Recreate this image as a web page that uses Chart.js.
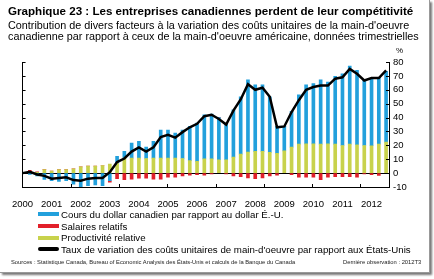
<!DOCTYPE html>
<html>
<head>
<meta charset="utf-8">
<script src="https://cdn.jsdelivr.net/npm/chart.js@4.4.1/dist/chart.umd.min.js"></script>
<style>
  html, body { margin: 0; padding: 0; background: #fff; }
  body { width: 434px; height: 279px; position: relative; overflow: hidden; font-family: "Liberation Sans", Arial, sans-serif; color: #000; }
  #frame { position: absolute; left: 0; top: 0; width: 429px; height: 272px; border-right: 1px solid #999; border-bottom: 1px solid #999; box-shadow: 2px 2px 2px #777; }
  #chart { position: absolute; left: 0; top: 0; }
  .t { position: absolute; white-space: nowrap; }
  #title { left: 8px; top: 4px; font-size: 11.6px; font-weight: bold; }
  #sub { left: 8px; top: 20px; font-size: 10.8px; line-height: 10.5px; }
  #pct { left: 396px; top: 46px; font-size: 8px; }
  .lg { position: absolute; left: 38px; font-size: 9.7px; line-height: 12px; white-space: nowrap; }
  .sw { display: inline-block; width: 21px; height: 4px; vertical-align: middle; margin-right: 2px; position: relative; top: -1px; }
  #src { left: 11px; top: 259px; font-size: 5.8px; color: #222; }
  #last { left: 343px; top: 259px; font-size: 5.8px; color: #222; }
</style>
</head>
<body>
<div id="frame"></div>
<canvas id="chart" width="434" height="279"></canvas>
<div class="t" id="title">Graphique 23 : Les entreprises canadiennes perdent de leur compétitivité</div>
<div class="t" id="sub">Contribution de divers facteurs à la variation des coûts unitaires de la main-d'oeuvre<br>canadienne par rapport à ceux de la main-d'oeuvre américaine, données trimestrielles</div>
<div class="t" id="pct">%</div>
<div id="legend"></div>
<div class="t" id="src">Sources : Statistique Canada, Bureau of Economic Analysis des États-Unis et calculs de la Banque du Canada</div>
<div class="t" id="last">Dernière observation : 2012T3</div>
<script>
// quarterly, 2000T1 .. 2012T3 (index 0 = 2000T1)
const years = ['2000', '2001', '2002', '2003', '2004', '2005', '2006', '2007', '2008', '2009', '2010', '2011', '2012'];

const dollar = [null, -1, -2, -4.5, -5.5, -6, -5.5, -8, -10, -9, -8.5, -9, -5.5,
  5, 4.8, 10.8, 12, 8.2, 12, 20.2, 20.2, 18, 20.5, 24.6, 27.5, 31.7, 32.2, 30.4, 26.4,
  34.1, 41.3, 52.1, 48, 48, 40.1, 19.4, 17.6, 25.7, 35.5, 42.4, 43.5, 46.3, 44.5,
  48.7, 51.6, 56.1, 53.6, 47.3, 48.3, 48.1, 50.9];

const wages = [null, 1.5, 0.5, 0, 0, 0, 0, 0, 0, 0, 0, 0, -1,
  -4, -4.8, -4.3, -3.6, -3.6, -4.3, -4.3, -3, -3, -2, -1.5, -1.2, -1.5, -0.5, 0, -0.5,
  -2, -2.5, -3.5, -4, -3.5, -2, -1.5, 0, -1.2, -3, -3, -3, -4.8, -3,
  -2.5, -2.5, -2.5, -3, -0.5, -1.2, -1.7, 0];

const productivity = [null, 0.5, 0.5, 2.5, 1.5, 2.5, 2.5, 3, 4.5, 5, 5, 5.5, 6.5,
  7, 10.8, 10.8, 10.8, 10.5, 10.8, 10.8, 10.8, 10.8, 10.5, 9, 8.5, 10.3, 10.3, 9.6, 9.6,
  11.5, 13.7, 15.1, 15.6, 15.6, 14.9, 14.2, 16, 18.7, 20.9, 21.1, 21, 20.9, 21,
  20.9, 19.9, 20.9, 20.4, 19.9, 19.7, 20.9, 22.3];

const ulcRate = [0, 1, -1, -2, -4, -3.5, -3, -5, -5.5, -4, -3.5, -3.5, 0.7,
  8, 10.5, 15.5, 18.5, 15.5, 18.5, 26, 27.5, 25.5, 29.5, 33, 35.5, 41, 42, 39, 35,
  45, 53, 64, 60, 61.5, 55, 33, 33.6, 44, 52.5, 60, 62, 63, 63,
  68, 69, 75, 71.5, 66.7, 68.4, 68.4, 74];

// bottom axis tick marks (in quarter units)
const xTickMarks = [6.63, 13.27, 19.9, 26.54, 33.17, 39.8, 46.44];

const BLUE = '#22a0dc';
const RED = '#e2202a';
const YELLOW = '#c8d24c';

const legendItems = [
  { label: 'Cours du dollar canadien par rapport au dollar É.-U.', color: BLUE },
  { label: 'Salaires relatifs', color: RED },
  { label: 'Productivité relative', color: YELLOW },
  { label: "Taux de variation des coûts unitaires de main-d'oeuvre par rapport aux États-Unis", color: '#000', line: true }
];

const legendEl = document.getElementById('legend');
legendItems.forEach((item, i) => {
  const row = document.createElement('div');
  row.className = 'lg';
  row.style.top = (209 + i * 11.6) + 'px';
  const sw = `<span class="sw" style="background:${item.color};${item.line ? 'border-radius:2px;' : ''}"></span>`;
  row.innerHTML = sw + item.label;
  legendEl.appendChild(row);
});

const toPoints = arr => arr.map((v, i) => ({ x: i, y: v }));
const tickFont = { family: '"Liberation Sans", Arial, sans-serif', size: 9.5 };

const innerTicks = {
  id: 'innerTicks',
  afterDraw(chart) {
    const { ctx, chartArea } = chart;
    const y = chart.scales.y;
    const x = chart.scales.x;
    ctx.save();
    ctx.strokeStyle = '#000';
    ctx.lineWidth = 1;
    ctx.beginPath();
    y.ticks.forEach(t => {
      const py = Math.round(y.getPixelForValue(t.value)) + 0.5;
      ctx.moveTo(chartArea.left, py);
      ctx.lineTo(chartArea.left + 3, py);
      ctx.moveTo(chartArea.right, py);
      ctx.lineTo(chartArea.right - 3, py);
    });
    xTickMarks.forEach(v => {
      const px = Math.round(x.getPixelForValue(v)) + 0.5;
      ctx.moveTo(px, chartArea.bottom);
      ctx.lineTo(px, chartArea.bottom - 3);
    });
    ctx.stroke();
    ctx.restore();
  }
};

new Chart(document.getElementById('chart'), {
  type: 'bar',
  data: {
    datasets: [{
      type: 'line',
      label: legendItems[3].label,
      data: toPoints(ulcRate),
      borderColor: '#000',
      borderWidth: 2.5,
      pointRadius: 0,
      tension: 0,
      stack: 'ln',
      order: 0
    }, {
      label: legendItems[2].label,
      data: toPoints(productivity),
      backgroundColor: YELLOW,
      barThickness: 3,
      order: 1
    }, {
      label: legendItems[0].label,
      data: toPoints(dollar),
      backgroundColor: BLUE,
      barThickness: 3,
      order: 1
    }, {
      label: legendItems[1].label,
      data: toPoints(wages),
      backgroundColor: RED,
      barThickness: 3,
      order: 1
    }]
  },
  options: {
    responsive: false,
    animation: false,
    events: [],
    layout: { padding: { top: 62, bottom: 67, left: 0, right: 0 } },
    plugins: { legend: { display: false }, tooltip: { enabled: false } },
    scales: {
      x: {
        type: 'linear',
        stacked: true,
        offset: false,
        min: 0,
        max: 50.4,
        position: 'bottom',
        grid: { display: false, drawTicks: false, offset: false },
        border: { display: true, color: '#000' },
        ticks: {
          stepSize: 4,
          includeBounds: false,
          autoSkip: false,
          maxRotation: 0,
          padding: 12,
          color: '#000',
          font: tickFont,
          callback: v => years[v / 4]
        },
        afterFit: s => { s.height = 25; }
      },
      y: {
        position: 'right',
        stacked: true,
        min: -10,
        max: 80,
        grid: {
          drawTicks: false,
          color: c => (c.tick && c.tick.value === 0 ? '#000' : 'rgba(0,0,0,0)')
        },
        border: { display: true, color: '#000' },
        ticks: { stepSize: 10, autoSkip: false, padding: 4, color: '#000', font: tickFont },
        afterFit: s => { s.width = 45; }
      },
      yl: {
        position: 'left',
        min: -10,
        max: 80,
        grid: { display: false, drawTicks: false },
        border: { display: true, color: '#000' },
        ticks: { display: false },
        afterFit: s => { s.width = 22; }
      }
    }
  },
  plugins: [innerTicks]
});
</script>
</body>
</html>
